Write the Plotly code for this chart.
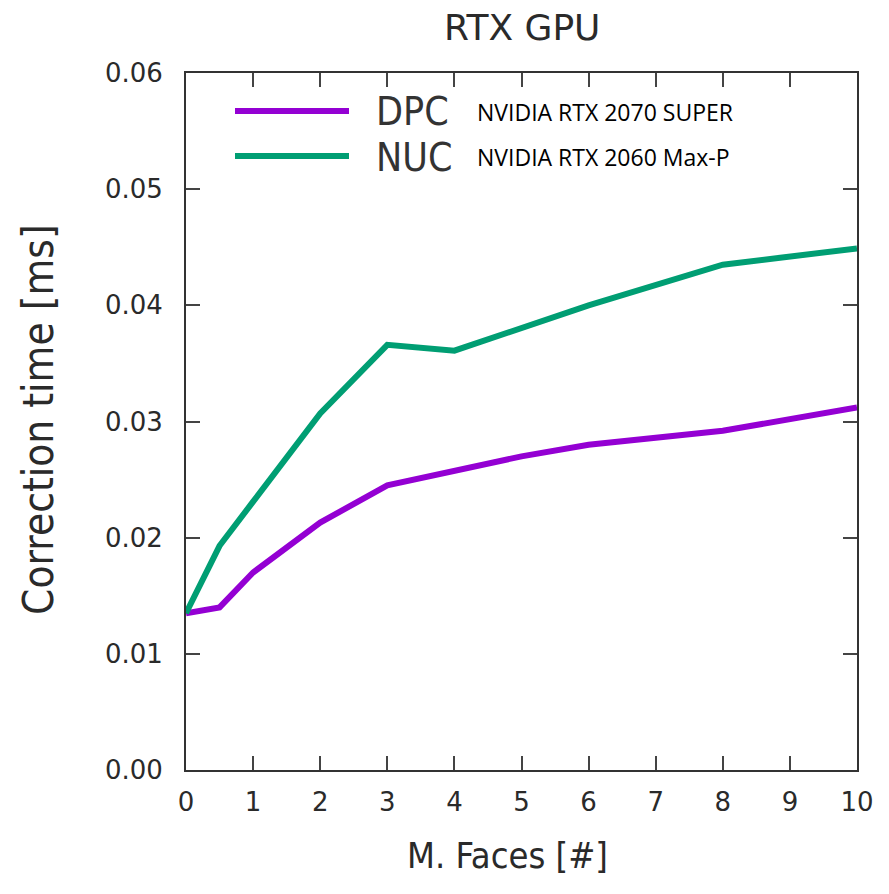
import plotly.graph_objects as go

x_dpc = [0, 0.5, 1, 2, 3, 4, 5, 6, 8, 10]
y_dpc = [0.0135, 0.0140, 0.0170, 0.0213, 0.0245, 0.0258, 0.0270, 0.0280, 0.0292, 0.0312]
x_nuc = [0, 0.5, 1, 2, 3, 4, 6, 8, 10]
y_nuc = [0.0135, 0.0193, 0.0231, 0.0307, 0.0366, 0.0361, 0.0400, 0.0435, 0.0449]

series_names = ["DPC", "NUC"]
series_devices = ["NVIDIA RTX 2070 SUPER", "NVIDIA RTX 2060 Max-P"]
colors = ["#9400D3", "#009E73"]

x_ticks = list(range(0, 11))
y_ticks = [0.00, 0.01, 0.02, 0.03, 0.04, 0.05, 0.06]

W, H = 889, 894
OFF = 8  # page body margin
# target plot area in screenshot pixels: x 186..857, y 73..770
PL, PR, PT, PB = 186, 857, 73, 770
L = PL - OFF
T = PT - OFF
R = W - (PR - OFF)
B = H - (PB - OFF)
PW = PR - PL
PH = PB - PT

fig = go.Figure()
fig.add_trace(go.Scatter(x=x_dpc, y=y_dpc, mode="lines", name="DPC",
                         line=dict(color=colors[0], width=6), showlegend=False))
fig.add_trace(go.Scatter(x=x_nuc, y=y_nuc, mode="lines", name="NUC",
                         line=dict(color=colors[1], width=6), showlegend=False))

axis_common = dict(showline=True, linecolor="#333333", linewidth=2, mirror="ticks",
                   ticks="inside", ticklen=14, tickwidth=2, tickcolor="#444444",
                   showgrid=False, zeroline=False,
                   tickfont=dict(family="DejaVu Sans", size=26, color="#2a2a2a"))

fig.update_xaxes(range=[0, 10], tickvals=x_ticks, ticktext=[str(v) for v in x_ticks],
                 ticklabelstandoff=8, **axis_common)
fig.update_yaxes(range=[0, 0.06], tickvals=y_ticks, ticktext=[f"{v:.2f}" for v in y_ticks],
                 ticklabelstandoff=16, **axis_common)

def px_x(p):
    return (p - PL) / PW

def px_y(p):
    return (PB - p) / PH

shapes = []
annotations = []
legend_rows = [111, 156]
for i, yy in enumerate(legend_rows):
    shapes.append(dict(type="line", xref="paper", yref="paper",
                       x0=px_x(235), x1=px_x(349), y0=px_y(yy), y1=px_y(yy),
                       line=dict(color=colors[i], width=6)))
    annotations.append(dict(xref="paper", yref="paper", x=px_x(374), y=px_y(yy + 1),
                            xanchor="left", yanchor="middle", showarrow=False,
                            text=series_names[i],
                            font=dict(family="DejaVu Sans Condensed", size=39, color="#333333")))
    annotations.append(dict(xref="paper", yref="paper", x=px_x(475), y=px_y(yy + 1),
                            xanchor="left", yanchor="middle", showarrow=False,
                            text=series_devices[i],
                            font=dict(family="Open Sans", size=23, color="#000000")))

# axis titles
annotations.append(dict(xref="paper", yref="paper", x=px_x(507), y=px_y(856),
                        xanchor="center", yanchor="middle", showarrow=False,
                        text="M. Faces [#]",
                        font=dict(family="DejaVu Sans Condensed", size=36, color="#2a2a2a")))
annotations.append(dict(xref="paper", yref="paper", x=px_x(39), y=px_y(420),
                        xanchor="center", yanchor="middle", showarrow=False, textangle=-90,
                        text="Correction time [ms]",
                        font=dict(family="DejaVu Sans Condensed", size=42, color="#2a2a2a")))
# title
annotations.append(dict(xref="paper", yref="paper", x=px_x(522), y=px_y(27),
                        xanchor="center", yanchor="middle", showarrow=False,
                        text="RTX GPU",
                        font=dict(family="DejaVu Sans", size=36, color="#2a2a2a")))

fig.update_layout(
    width=W, height=H,
    margin=dict(l=L, r=R, t=T, b=B),
    paper_bgcolor="white", plot_bgcolor="white",
    shapes=shapes, annotations=annotations,
)

fig.write_html("out.html")
